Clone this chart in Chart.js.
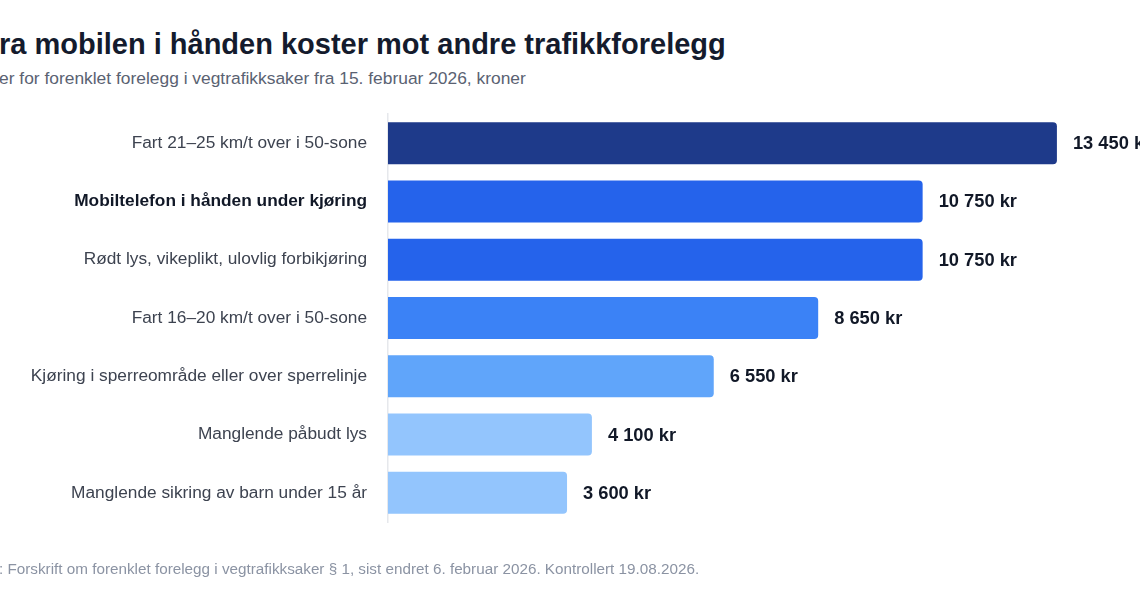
<!DOCTYPE html>
<html lang="no">
<head>
<meta charset="utf-8">
<title>Mobilen i hånden mot andre trafikkforelegg</title>
<script src="https://cdn.jsdelivr.net/npm/chart.js@4"></script>
<style>
  html, body { margin: 0; padding: 0; background: #fff; }
  body { width: 1140px; height: 600px; position: relative; overflow: hidden;
         font-family: "Liberation Sans", Arial, Helvetica, sans-serif; }
  .txt { position: absolute; white-space: nowrap; line-height: 1; }
  #title { left: -1px; top: 30px; font-size: 29px; font-weight: bold; color: #141b2d; }
  #subtitle { left: -1px; top: 70px; font-size: 17.4px; color: #5a6272; }
  #source { left: -1px; top: 561px; font-size: 15.25px; color: #8b93a3; }
  #myChart { position: absolute; left: 0; top: 0; }
</style>
</head>
<body>
<div class="txt" id="title">ra mobilen i hånden koster mot andre trafikkforelegg</div>
<div class="txt" id="subtitle">er for forenklet forelegg i vegtrafikksaker fra 15. februar 2026, kroner</div>
<canvas id="myChart" width="1140" height="600"></canvas>
<div class="txt" id="source">: Forskrift om forenklet forelegg i vegtrafikksaker § 1, sist endret 6. februar 2026. Kontrollert 19.08.2026.</div>

<script>
const labels = [
    'Fart 21–25 km/t over i 50-sone',
    'Mobiltelefon i hånden under kjøring',
    'Rødt lys, vikeplikt, ulovlig forbikjøring',
    'Fart 16–20 km/t over i 50-sone',
    'Kjøring i sperreområde eller over sperrelinje',
    'Manglende påbudt lys',
    'Manglende sikring av barn under 15 år'
];
const fines = [13450, 10750, 10750, 8650, 6550, 4100, 3600];
const barColors = ['#1e3a8a', '#2563eb', '#2563eb', '#3b82f6', '#60a5fa', '#93c5fd', '#93c5fd'];
const highlightIndex = 1; // mobile phone row

const fontFamily = '"Liberation Sans", Arial, Helvetica, sans-serif';

// "13 450 kr"
function formatKr(v) {
    return String(v).replace(/\B(?=(\d{3})+(?!\d))/g, ' ') + ' kr';
}

// value labels at the end of each bar
const valueLabels = {
    id: 'valueLabels',
    afterDatasetsDraw(chart) {
        const ctx = chart.ctx;
        const meta = chart.getDatasetMeta(0);
        ctx.save();
        ctx.font = 'bold 18.3px ' + fontFamily;
        ctx.fillStyle = '#111827';
        ctx.textAlign = 'left';
        ctx.textBaseline = 'middle';
        meta.data.forEach(function(bar, i) {
            ctx.fillText(formatKr(chart.data.datasets[0].data[i]), bar.x + 16, bar.y + 1);
        });
        ctx.restore();
    }
};

const ctx = document.getElementById('myChart').getContext('2d');
const myChart = new Chart(ctx, {
    type: 'bar',
    data: {
        labels: labels,
        datasets: [{
            data: fines,
            backgroundColor: barColors,
            borderRadius: 4,
            borderSkipped: 'start',
            barPercentage: 0.72,
            categoryPercentage: 1
        }]
    },
    options: {
        indexAxis: 'y',
        responsive: false,
        animation: false,
        layout: {
            padding: { top: 114, bottom: 78, left: 0, right: 6 }
        },
        plugins: {
            legend: { display: false },
            tooltip: { enabled: false }
        },
        scales: {
            x: {
                display: false,
                min: 0,
                max: 15000
            },
            y: {
                afterFit: function(scale) { scale.width = 388; },
                grid: { display: false, drawTicks: false },
                border: { display: true, color: '#e6e8ec', width: 1.5 },
                ticks: {
                    padding: 21,
                    color: function(c) { return c.index === highlightIndex ? '#111827' : '#3d4350'; },
                    font: function(c) {
                        return {
                            family: fontFamily,
                            size: 17.3,
                            weight: c.index === highlightIndex ? 'bold' : 'normal'
                        };
                    }
                }
            }
        }
    },
    plugins: [valueLabels]
});
</script>
</body>
</html>
